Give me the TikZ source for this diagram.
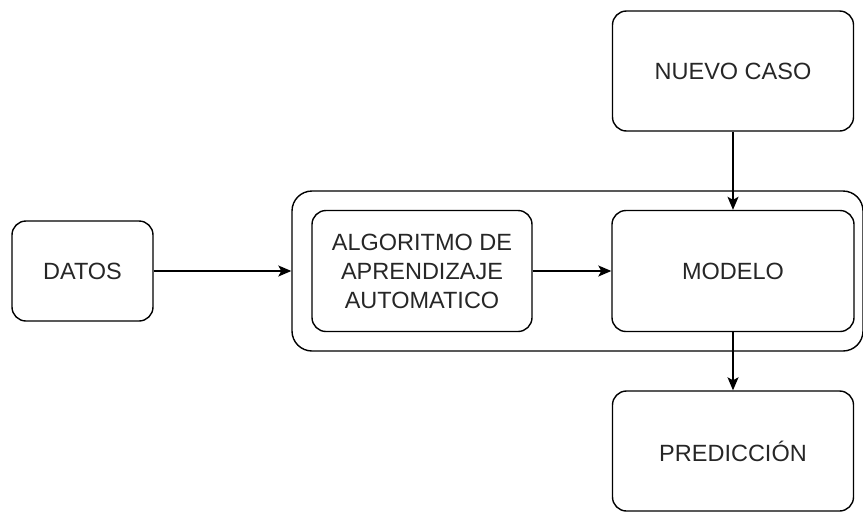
\documentclass[tikz,border=0pt]{standalone}
\usepackage{fontspec}
\setmainfont{Liberation Sans}
\usetikzlibrary{arrows.meta}
\begin{document}
\begin{tikzpicture}[x=1pt,y=-1pt,
  box/.style={draw, line width=1.4pt, rounded corners=14pt, inner sep=0pt,
    align=center, font=\fontsize{23.5}{29}\selectfont, text=black!85},
  frame/.style={draw, line width=1.4pt, rounded corners=20pt, inner sep=0pt},
  flow/.style={line width=1.4pt, -{Stealth[length=13pt,width=11pt,inset=3pt]}}]
\useasboundingbox (0,0) rectangle (863,512);
% outer frame around the learning stage
\node[frame, minimum width=571pt, minimum height=160pt] (stage) at (577.5,271) {};
% boxes
\node[box, minimum width=141pt, minimum height=100pt] (datos) at (82.5,271) {DATOS};
\node[box, minimum width=220pt, minimum height=121pt] (algo) at (422,271)
  {ALGORITMO DE\\APRENDIZAJE\\AUTOMATICO};
\node[box, minimum width=242pt, minimum height=121pt] (modelo) at (733,271) {MODELO};
\node[box, minimum width=241pt, minimum height=120pt] (nuevo) at (733,71) {NUEVO CASO};
\node[box, minimum width=241pt, minimum height=120pt] (pred) at (733,451) {PREDICCIÓN};
% connectors
\draw[flow] (datos.east) -- (datos.east -| stage.west);
\draw[flow] (algo.east) -- (algo.east -| modelo.west);
\draw[flow] (nuevo.south) -- (modelo.north);
\draw[flow] (modelo.south) -- (pred.north);
\end{tikzpicture}
\end{document}
